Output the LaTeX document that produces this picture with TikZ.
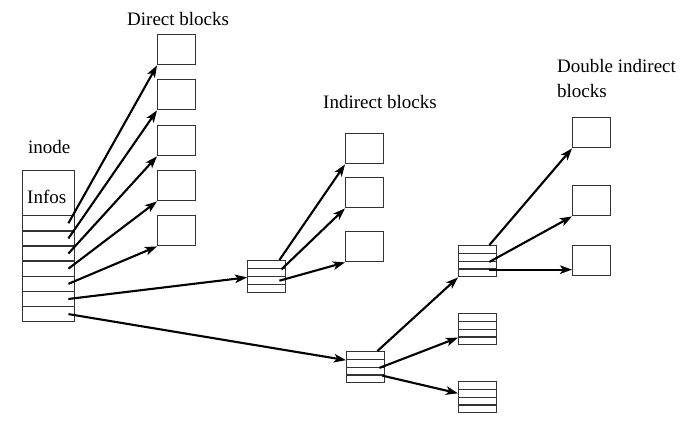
\documentclass[tikz,border=0pt]{standalone}
\usepackage{fontspec}
\setmainfont{Liberation Serif}
\usetikzlibrary{arrows.meta}
\begin{document}
\begin{tikzpicture}[x=1pt,y=-1pt,
  box/.style={draw=black!80, line width=1.4pt, minimum width=38pt, minimum height=30pt, inner sep=0pt, anchor=north west},
  rowbox/.style={draw=black!80, line width=1.4pt, minimum width=38pt, minimum height=7.75pt, inner sep=0pt, anchor=north west},
  irow/.style={draw=black!80, line width=1.4pt, minimum width=52pt, minimum height=15.14pt, inner sep=0pt, anchor=north west},
  ptr/.style={line width=2.1pt, -{Stealth[length=12pt,width=8.5pt,inset=3pt]}},
  lbl/.style={font=\fontsize{19}{22}\selectfont, inner sep=0pt, anchor=base west}]
\useasboundingbox (0,0) rectangle (687,430);
% labels
\node[lbl] (tdirect) at (127,26) {Direct blocks};
\node[lbl] (tind) at (323,109) {Indirect blocks};
\node[lbl] (tdbl1) at (557,72.7) {Double indirect};
\node[lbl] (tdbl2) at (557,98) {blocks};
\node[lbl] (tinode) at (28,154) {inode};
% inode
\node[draw=black!80, line width=1.4pt, minimum width=52pt, minimum height=45pt, inner sep=0pt, anchor=north west] (infos) at (22,170) {};
\node[lbl] (tinfos) at (27,204) {Infos};
\foreach \i in {1,...,7} {
  \node[irow] (r\i) at (22,{215+15.14*(\i-1)}) {};
}
% direct blocks
\node[box] (da) at (157,34) {};
\node[box] (db) at (157,79) {};
\node[box] (dc) at (157,125) {};
\node[box] (dd) at (157,170) {};
\node[box] (de) at (157,215) {};
% single indirect
\foreach \i in {1,...,4} { \node[rowbox, minimum height=8pt] (s-\i) at (247,{260+8*(\i-1)}) {}; }
\node[box] (ia) at (345,133) {};
\node[box] (ib) at (345,177) {};
\node[box] (ic) at (345,231) {};
% double indirect level 1
\foreach \i in {1,...,4} { \node[rowbox] (d-\i) at (346,{351+7.75*(\i-1)}) {}; }
% level 2
\foreach \i in {1,...,4} { \node[rowbox] (ea-\i) at (458,{245+7.75*(\i-1)}) {}; }
\foreach \i in {1,...,4} { \node[rowbox] (eb-\i) at (458,{313+7.75*(\i-1)}) {}; }
\foreach \i in {1,...,4} { \node[rowbox] (ec-\i) at (458,{381+7.75*(\i-1)}) {}; }
% double indirect data blocks
\node[box] (ta) at (572,117) {};
\node[box] (tb) at (572,185) {};
\node[box] (tc) at (572,245) {};
% pointers from inode
\draw[ptr] ([xshift=-7pt]r1.east) -- (da.south west);
\draw[ptr] ([xshift=-7pt]r2.east) -- (db.south west);
\draw[ptr] ([xshift=-7pt]r3.east) -- (dc.south west);
\draw[ptr] ([xshift=-7pt]r4.east) -- (dd.south west);
\draw[ptr] ([xshift=-7pt]r5.east) -- (de.south west);
\draw[ptr] ([xshift=-7pt]r6.east) -- (s-2.south west);
\draw[ptr] ([xshift=-7pt]r7.east) -- (d-1.south west);
% single indirect pointers
\draw[ptr] ([xshift=-7pt]s-1.north east) -- (ia.south west);
\draw[ptr] ([xshift=-5pt]s-1.south east) -- (ib.south west);
\draw[ptr] ([xshift=-7pt]s-3.east) -- (ic.south west);
% double indirect level 1 pointers
\draw[ptr] ([xshift=-8pt]d-1.north east) -- (ea-4.south west);
\draw[ptr] ([xshift=-6pt]d-2.south east) -- (eb-3.south west);
\draw[ptr] ([xshift=-3pt]d-3.south east) -- (ec-2.west);
% level 2 pointers
\draw[ptr] ([xshift=-8pt]ea-1.north east) -- (ta.south west);
\draw[ptr] ([xshift=-8pt]ea-2.south east) -- (tb.south west);
\draw[ptr] ([xshift=-8pt]ea-3.south east) -- (tc.west |- ea-3.south east);
\end{tikzpicture}
\end{document}
